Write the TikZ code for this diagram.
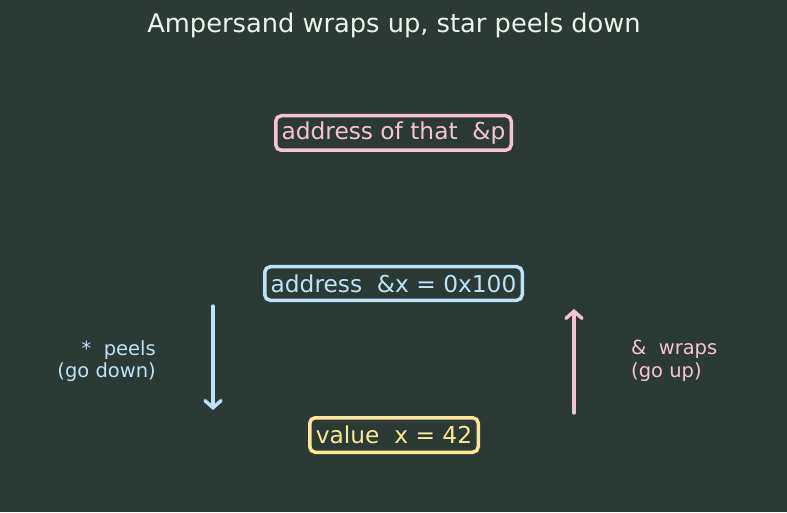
\documentclass[tikz,border=0pt]{standalone}
\usepackage{fontspec}
\setmainfont{DejaVu Sans}
\usetikzlibrary{arrows.meta}
\definecolor{bg}{RGB}{43,58,53}
\definecolor{titlec}{RGB}{236,244,236}
\definecolor{pinkc}{RGB}{246,196,208}
\definecolor{bluec}{RGB}{190,226,248}
\definecolor{yellowc}{RGB}{253,231,150}
\tikzset{
  box/.style={draw, line width=3.5pt, rounded corners=5.5pt, inner sep=0pt,
    font=\fontsize{23.3}{27}\selectfont},
  sidelabel/.style={font=\fontsize{19.5}{22.5}\selectfont, inner sep=0pt},
  arr/.style={line width=3.5pt, line cap=round, -{Straight Barb[length=7pt,width=16pt,line cap=round]}}
}
\begin{document}
\begin{tikzpicture}[x=1pt,y=1pt]
\fill[bg] (0,0) rectangle (787,512);
\useasboundingbox (0,0) rectangle (787,512);
\node[text=titlec, font=\fontsize{25.7}{30}\selectfont] (title) at (394,487) {Ampersand wraps up, star peels down};
\node[box, draw=pinkc, text=pinkc, minimum width=235.5pt, minimum height=34.5pt] (top) at (393.5,379) {address of that\ \ \&p};
\node[box, draw=bluec, text=bluec, minimum width=257.5pt, minimum height=33.5pt] (mid) at (393.5,228.5) {address\ \ \&x = 0x100};
\node[box, draw=yellowc, text=yellowc, minimum width=168.5pt, minimum height=34.5pt] (bot) at (394,77) {value\ \ x = 42};
\coordinate (d1) at (213,206);
\coordinate (d2) at (213,102);
\coordinate (u1) at (574,99);
\coordinate (u2) at (574,203);
\draw[arr, bluec] (d1) -- (d2);
\draw[arr, pinkc] (u1) -- (u2);
\node[sidelabel, text=bluec, anchor=east, align=right] (peel) at (156,151) {*\ \ peels\\(go down)};
\node[sidelabel, text=pinkc, anchor=west, align=left] (wrap) at (631,151) {\&\ \ wraps\\(go up)};
\end{tikzpicture}
\end{document}
